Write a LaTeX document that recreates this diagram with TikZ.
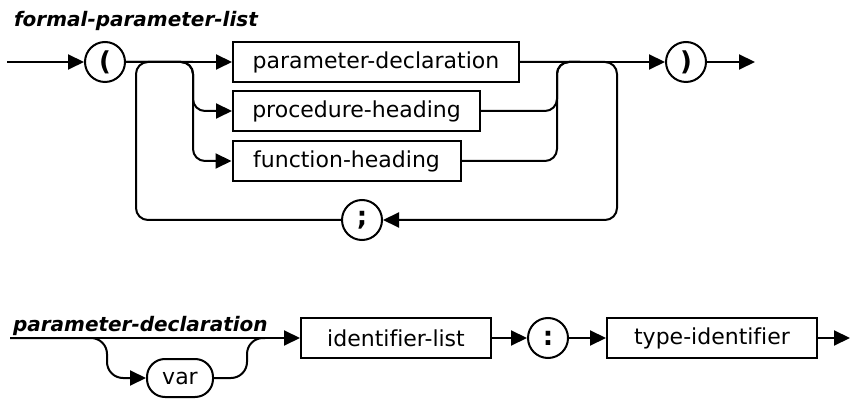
\documentclass[tikz,border=0pt]{standalone}
\usepackage{fontspec}
\setmainfont{DejaVu Sans}[Ligatures=NoCommon]
\usetikzlibrary{positioning, arrows.meta, calc}

\begin{document}
\begin{tikzpicture}[
    x=0.5pt, y=-0.5pt,
    line width=1pt,
    every node/.style={font=\fontsize{11}{13}\selectfont, inner sep=0pt},
    nbox/.style={draw, minimum height=20pt},
    tsym/.style={draw, circle, minimum size=20pt, font=\fontsize{13}{15}\selectfont\bfseries},
    kword/.style={draw, rounded corners=9pt, minimum width=33pt, minimum height=19pt},
    rname/.style={font=\fontsize{10}{12}\selectfont\bfseries\itshape, anchor=base west},
    >={Triangle[length=8pt, width=7.5pt]},
  ]
  \useasboundingbox (0,0) rectangle (850,400);

  \node[rname] (t1) at (13,27) {formal-parameter-list};
  \coordinate (in1) at (7,62);
  \node[tsym] (lp) at (105,62) {(};
  \node[nbox, minimum width=143pt] (pd) at (376,62) {parameter-declaration};
  \node[nbox, minimum width=123.5pt] (ph) at (356.5,111) {procedure-heading};
  \node[nbox, minimum width=114pt] (fh) at (346.5,161) {function-heading};
  \node[tsym] (rp) at (686,62) {)};
  \coordinate (out1) at (755,62);
  \node[tsym] (semi) at (362,220) {;};
  \coordinate (sa) at (193,62);
  \coordinate (sb) at (557,62);
  \coordinate (mg) at (580,62);
  \coordinate (lr) at (617,220);
  \coordinate (ll) at (136,220);

  \draw[->] (in1) -- (lp);
  \draw[->] (lp) -- (pd);
  \draw[->, rounded corners=6pt] (lp.east) -| (sa |- ph) -- (ph);
  \draw[->, rounded corners=6pt] (lp.east) -| (sa |- fh) -- (fh);
  \draw[->] (pd) -- (rp);
  \draw[->] (rp) -- (out1);
  \draw[rounded corners=6pt] (ph.east) -| (sb) -- (mg);
  \draw[rounded corners=6pt] (fh.east) -| (sb) -- (mg);
  \draw[->, rounded corners=6pt] (pd.east) -| (lr) -- (semi);
  \draw[rounded corners=6pt] (semi.west) -| (ll |- lp.east) -- (sa);

  \node[rname] (t2) at (12,331) {parameter-declaration};
  \coordinate (in2) at (10,338);
  \node[kword] (var) at (180,378) {var};
  \node[nbox, minimum width=95pt] (il) at (396,338) {identifier-list};
  \node[tsym] (col) at (548,338) {:};
  \node[nbox, minimum width=105pt] (ti) at (712,338) {type-identifier};
  \coordinate (out2) at (850,338);
  \coordinate (va) at (107,338);
  \coordinate (vb) at (247,338);
  \coordinate (vc) at (265,338);

  \draw[->] (in2) -- (il);
  \draw[->, rounded corners=8pt] (in2) -| (va |- var) -- (var);
  \draw[rounded corners=8pt] (var.east) -| (vb) -- (vc);
  \draw[->] (il) -- (col);
  \draw[->] (col) -- (ti);
  \draw[->] (ti) -- (out2);
\end{tikzpicture}
\end{document}
